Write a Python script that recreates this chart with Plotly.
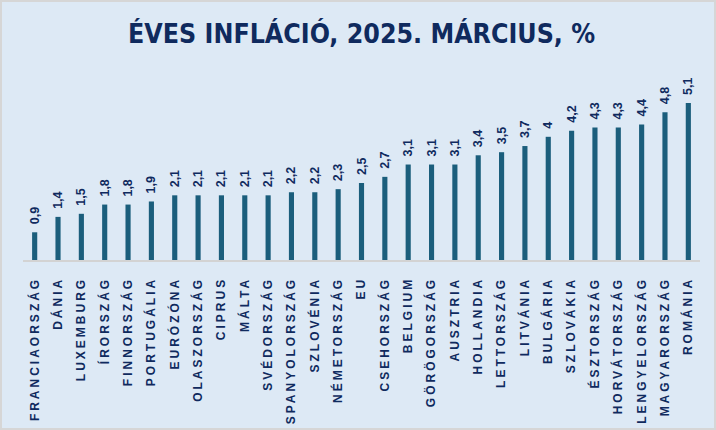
import plotly.graph_objects as go

countries = ["FRANCIAORSZÁG", "DÁNIA", "LUXEMBURG", "ÍRORSZÁG", "FINNORSZÁG", "PORTUGÁLIA",
             "EURÓZÓNA", "OLASZORSZÁG", "CIPRUS", "MÁLTA", "SVÉDORSZÁG", "SPANYOLORSZÁG",
             "SZLOVÉNIA", "NÉMETORSZÁG", "EU", "CSEHORSZÁG", "BELGIUM", "GÖRÖGORSZÁG",
             "AUSZTRIA", "HOLLANDIA", "LETTORSZÁG", "LITVÁNIA", "BULGÁRIA", "SZLOVÁKIA",
             "ÉSZTORSZÁG", "HORVÁTORSZÁG", "LENGYELORSZÁG", "MAGYARORSZÁG", "ROMÁNIA"]
inflation = [0.9, 1.4, 1.5, 1.8, 1.8, 1.9, 2.1, 2.1, 2.1, 2.1, 2.1, 2.2, 2.2, 2.3, 2.5, 2.7,
             3.1, 3.1, 3.1, 3.4, 3.5, 3.7, 4, 4.2, 4.3, 4.3, 4.4, 4.8, 5.1]
title_text = "ÉVES INFLÁCIÓ, 2025. MÁRCIUS, %"

W, H = 716, 430
ML, MR, MT, MB = 23, 16, 80, 170
BG = "#dde9f5"
BAR = "#1b5e7c"
NAVY = "#0f2a5e"

labels = [f"{v:g}".replace(".", ",") for v in inflation]

fig = go.Figure(go.Bar(
    x=countries, y=inflation, text=labels,
    textposition="outside", textangle=-90, constraintext="none", cliponaxis=False,
    textfont=dict(family="Liberation Sans, Arial", size=12.5, color=NAVY, weight="bold"),
    marker=dict(color=BAR, line=dict(width=0)),
    width=0.22, hoverinfo="skip",
))

pw = W - ML - MR
ph = H - MT - MB
fig.add_shape(type="rect", xref="paper", yref="paper",
              x0=-ML / pw, x1=(W - ML) / pw, y0=-MB / ph, y1=(H - MB) / ph,
              line=dict(color="#d6d6d6", width=4), layer="above")

fig.update_layout(
    width=W, height=H,
    margin=dict(l=ML, r=MR, t=MT, b=MB),
    paper_bgcolor=BG, plot_bgcolor=BG,
    showlegend=False,
    title=dict(text=title_text, x=0.505, xanchor="center", y=1 - 34 / H, yanchor="middle",
               yref="container",
               font=dict(family="DejaVu Sans Condensed, Liberation Sans Narrow, Roboto, Arial",
                         size=26.5, color=NAVY, weight="bold")),
    xaxis=dict(range=[-0.5, len(countries) - 0.5], tickangle=-90, showgrid=False,
               showline=True, linecolor="#d3d3d3", linewidth=2,
               ticks="outside", ticklen=10, tickcolor="rgba(0,0,0,0)",
               tickfont=dict(family="Liberation Sans, Arial", size=12, color=NAVY, weight="bold")),
    yaxis=dict(range=[0, ph / 30.8], visible=False, showgrid=False, zeroline=False),
)

post = """
document.body.style.margin='0';
document.querySelectorAll('.xtick text').forEach(function(t){t.setAttribute('letter-spacing','3px');});
document.querySelectorAll('text.bartext').forEach(function(t){
  var tr=t.getAttribute('transform')||'';
  t.setAttribute('transform','translate(0,-8) '+tr);
});
"""
fig.write_html("out.html", post_script=post, config={"displayModeBar": False})
